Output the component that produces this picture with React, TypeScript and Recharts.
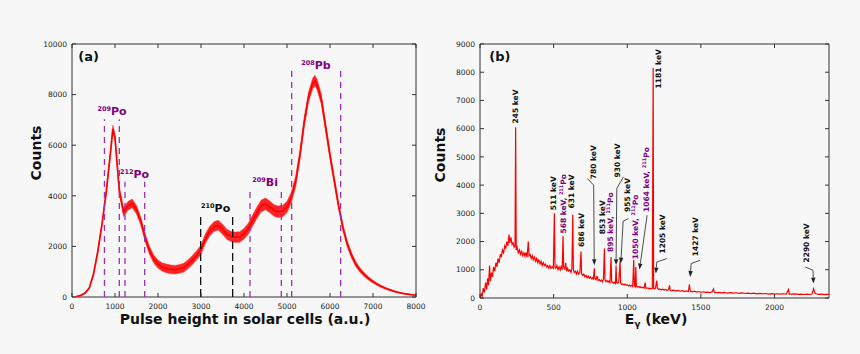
import React from 'react';
import { ComposedChart, LineChart, Line, Area, XAxis, YAxis, ReferenceLine, ReferenceDot, ReferenceArea } from 'recharts';

const FONT = '"DejaVu Sans", sans-serif';
const AXIS = '#333';
const PURPLE = '#800080';
const PURPLE_LINE = '#9b30b0';

// panel (a): [pulse height, counts, noise half-width]
const pulseSpectrum: [number, number, number][] = [
  [100, 20, 10], [200, 60, 20], [300, 150, 30], [400, 350, 40], [500, 900, 60],
  [600, 1800, 80], [700, 2900, 100], [800, 4200, 110], [900, 5800, 130], [950, 6650, 140],
  [1000, 6300, 140], [1100, 4200, 150], [1200, 3350, 170], [1300, 3600, 170], [1400, 3700, 170],
  [1500, 3450, 170], [1600, 3000, 160], [1700, 2350, 160], [1800, 1850, 160], [1900, 1500, 160],
  [2000, 1300, 160], [2100, 1180, 165], [2200, 1130, 170], [2300, 1090, 170], [2400, 1080, 170],
  [2500, 1110, 170], [2600, 1160, 175], [2700, 1300, 175], [2800, 1460, 180], [2900, 1650, 180],
  [3000, 1870, 185], [3100, 2300, 190], [3200, 2600, 190], [3300, 2780, 195], [3400, 2840, 195],
  [3500, 2680, 200], [3600, 2480, 200], [3700, 2390, 200], [3800, 2360, 205], [3900, 2370, 205],
  [4000, 2500, 210], [4100, 2700, 215], [4200, 3020, 220], [4300, 3330, 225], [4400, 3600, 230],
  [4500, 3680, 230], [4600, 3560, 230], [4700, 3420, 230], [4800, 3370, 230], [4900, 3400, 225],
  [5000, 3560, 220], [5100, 3930, 215], [5200, 4550, 210], [5300, 5600, 205], [5400, 6900, 200],
  [5500, 7900, 200], [5600, 8450, 210], [5650, 8550, 210], [5700, 8400, 205], [5800, 7800, 200],
  [5900, 6700, 190], [6000, 5600, 170], [6100, 4600, 150], [6200, 3600, 140], [6300, 2750, 130],
  [6400, 2100, 120], [6500, 1650, 110], [6600, 1300, 100], [6700, 1060, 85], [6800, 880, 75],
  [6900, 730, 65], [7000, 610, 55], [7100, 500, 45], [7200, 410, 40], [7300, 340, 35],
  [7400, 280, 30], [7500, 220, 25], [7600, 180, 20], [7700, 140, 18], [7800, 115, 15],
  [7900, 90, 12], [8000, 70, 10],
];

const pulseTicks = [0, 1000, 2000, 3000, 4000, 5000, 6000, 7000, 8000];
const countTicksA = [0, 2000, 4000, 6000, 8000, 10000];

// dashed windows: [position, top, colour]
const windowsA: [number, number, string][] = [
  [755, 7030, PURPLE_LINE], [1100, 7030, PURPLE_LINE],
  [1232, 4560, PURPLE_LINE], [1690, 4560, PURPLE_LINE],
  [2992, 3200, '#111'], [3736, 3200, '#111'],
  [4140, 4220, PURPLE_LINE], [4868, 4220, PURPLE_LINE],
  [5109, 9060, PURPLE_LINE], [6248, 9130, PURPLE_LINE],
];

// isotope labels: [x, y, mass, symbol, colour]
const isotopesA: [number, number, string, string, string][] = [
  [930, 7190, '209', 'Po', PURPLE],
  [1453, 4700, '212', 'Po', PURPLE],
  [3340, 3370, '210', 'Po', '#111'],
  [4490, 4390, '209', 'Bi', PURPLE],
  [5674, 9000, '208', 'Pb', PURPLE],
];

// panel (b): [energy keV, counts]
const gammaSpectrum: [number, number][] = [
  [0, 0], [8, 150], [15, 60], [22, 350], [30, 200], [38, 550], [45, 300], [52, 700], [58, 450],
  [65, 1150], [70, 600], [78, 900], [85, 750], [92, 1100], [100, 950], [108, 1250], [115, 1100],
  [122, 1400], [130, 1250], [138, 1550], [145, 1450], [152, 1700], [160, 1600], [168, 1850],
  [175, 1750], [182, 2000], [190, 1850], [197, 2250], [203, 1950], [210, 2150], [218, 1900],
  [225, 1950], [232, 1800], [238, 1850], [242, 6050], [246, 1700], [252, 1800], [260, 1600],
  [268, 1700], [275, 1550], [283, 1650], [290, 1500], [298, 1600], [305, 1480], [312, 1620],
  [320, 1450], [328, 2000], [333, 1500], [340, 1550], [348, 1400], [355, 1500], [362, 1350],
  [370, 1450], [378, 1300], [385, 1400], [393, 1250], [400, 1350], [408, 1200], [415, 1300],
  [423, 1150], [430, 1250], [438, 1150], [445, 1200], [453, 1100], [460, 1150], [468, 1050],
  [475, 1150], [483, 1050], [490, 1100], [498, 1050], [505, 3000], [509, 1100], [515, 1050],
  [522, 1150], [530, 1000], [537, 1100], [545, 1000], [552, 1150], [558, 1000], [564, 2200],
  [568, 1100], [575, 1000], [582, 1250], [588, 950], [595, 1050], [602, 950], [610, 1000],
  [618, 900], [624, 1050], [630, 2950], [634, 1000], [640, 900], [648, 950], [655, 850],
  [662, 950], [670, 850], [678, 900], [686, 1650], [690, 850], [698, 800], [705, 850],
  [712, 750], [720, 800], [728, 720], [735, 780], [742, 700], [750, 750], [758, 680],
  [765, 720], [770, 650], [776, 1050], [780, 700], [788, 650], [795, 780], [802, 620],
  [810, 650], [818, 600], [825, 640], [832, 580], [838, 650], [845, 1750], [849, 650],
  [855, 580], [862, 620], [870, 560], [876, 600], [883, 550], [890, 1450], [894, 580],
  [900, 560], [908, 520], [915, 560], [920, 520], [924, 1150], [928, 540], [935, 520],
  [942, 560], [951, 1300], [955, 520], [962, 480], [970, 500], [978, 460], [985, 490],
  [992, 450], [1000, 470], [1008, 430], [1015, 460], [1022, 420], [1030, 450], [1037, 410],
  [1044, 1350], [1048, 450], [1054, 400], [1058, 1100], [1062, 420], [1070, 390], [1078, 410],
  [1085, 370], [1092, 400], [1100, 360], [1108, 380], [1115, 350], [1122, 550], [1126, 360],
  [1133, 340], [1140, 360], [1148, 330], [1155, 350], [1162, 320], [1170, 340], [1176, 8150],
  [1179, 340], [1185, 320], [1192, 350], [1200, 620], [1205, 350], [1212, 300], [1220, 320],
  [1230, 290], [1240, 310], [1250, 280], [1260, 300], [1270, 270], [1280, 290], [1287, 450],
  [1292, 270], [1300, 260], [1315, 280], [1330, 250], [1345, 270], [1360, 240], [1375, 260],
  [1390, 230], [1405, 250], [1415, 230], [1422, 480], [1428, 240], [1440, 220], [1455, 240],
  [1470, 210], [1485, 230], [1500, 200], [1515, 220], [1530, 200], [1545, 210], [1560, 190],
  [1575, 210], [1586, 320], [1592, 200], [1605, 190], [1620, 200], [1640, 180], [1660, 200],
  [1680, 170], [1700, 190], [1720, 170], [1740, 185], [1760, 165], [1780, 180], [1800, 160],
  [1820, 175], [1840, 155], [1860, 170], [1880, 150], [1900, 165], [1920, 150], [1940, 160],
  [1960, 140], [1980, 155], [2000, 140], [2020, 150], [2040, 135], [2060, 150], [2080, 140],
  [2095, 300], [2100, 140], [2120, 135], [2140, 145], [2160, 130], [2180, 140], [2200, 125],
  [2220, 140], [2240, 125], [2255, 140], [2265, 330], [2272, 200], [2280, 150], [2300, 130],
  [2320, 140], [2340, 120], [2360, 135], [2370, 125],
];

const energyTicks = [0, 500, 1000, 1500, 2000];
const countTicksB = [0, 1000, 2000, 3000, 4000, 5000, 6000, 7000, 8000, 9000];

// peak labels: [x, y, text, isotope suffix?]
const peaksB: [number, number, string, boolean][] = [
  [261, 6186, '245 keV', false],
  [516, 3111, '511 keV', false],
  [584, 2284, '568 keV, ', true],
  [641, 3171, '631 keV', false],
  [709, 1809, '686 keV', false],
  [788, 4210, '780 keV', false],
  [852, 2259, '853 keV', false],
  [902, 1632, '895 keV, ', true],
  [954, 4271, '930 keV', false],
  [1019, 3050, '955 keV', false],
  [1072, 1373, '1050 keV, ', true],
  [1151, 3050, '1064 keV, ', true],
  [1230, 7427, '1181 keV', false],
  [1257, 1575, '1205 keV', false],
  [1479, 1479, '1427 keV', false],
  [2232, 1256, '2290 keV', false],
];

// leader arrows for crowded peaks
const arrowsB: [number, number][][] = [
  [[729, 4235], [772, 3997], [776, 1160]],
  [[974, 4292], [929, 3880], [924, 1160]],
  [[1008, 2816], [972, 2720], [956, 1220]],
  [[1135, 2933], [1083, 1007]],
  [[1269, 1397], [1201, 1277], [1194, 865]],
  [[1495, 1337], [1434, 1220], [1427, 745]],
  [[2209, 1100], [2261, 983], [2265, 511]],
];

const pulseData = pulseSpectrum.map(([x, c, s]) => ({ x, c, band: [c - s, c + s] }));
const gammaData = gammaSpectrum.map(([e, c]) => ({ e, c }));

const makeXTick = (plotH: number, dy: number) => (props: any) => {
  const { x, y, payload } = props;
  return (
    <g>
      <line x1={x} x2={x} y1={y} y2={y - 4} stroke={AXIS} />
      <line x1={x} x2={x} y1={y - plotH} y2={y - plotH + 4} stroke={AXIS} />
      <text x={x} y={y + dy} textAnchor="middle" fontSize={7.5} fill="#222" fontFamily={FONT}>
        {payload.value}
      </text>
    </g>
  );
};

const makeYTick = (plotW: number) => (props: any) => {
  const { x, y, payload } = props;
  return (
    <g>
      <line x1={x} x2={x + 4} y1={y} y2={y} stroke={AXIS} />
      <line x1={x + plotW} x2={x + plotW - 4} y1={y} y2={y} stroke={AXIS} />
      <text x={x - 5} y={y + 2.7} textAnchor="end" fontSize={7.5} fill="#222" fontFamily={FONT}>
        {payload.value}
      </text>
    </g>
  );
};

const arrowShape = (props: any) => {
  const { x1, y1, x2, y2 } = props;
  const dx = x2 - x1;
  const dy = y2 - y1;
  const len = Math.sqrt(dx * dx + dy * dy) || 1;
  const ux = dx / len;
  const uy = dy / len;
  const bx = x2 - ux * 6;
  const by = y2 - uy * 6;
  return (
    <g>
      <line x1={x1} y1={y1} x2={bx} y2={by} stroke="#222" strokeWidth={0.8} />
      <polygon
        points={`${x2},${y2} ${bx - uy * 2.2},${by + ux * 2.2} ${bx + uy * 2.2},${by - ux * 2.2}`}
        fill="#222"
      />
    </g>
  );
};

const title: React.CSSProperties = {
  position: 'absolute',
  fontFamily: FONT,
  fontWeight: 'bold',
  fontSize: 14,
  color: '#111',
  whiteSpace: 'nowrap',
  lineHeight: 1,
};

export default function App() {
  return (
    <div style={{ position: 'absolute', left: 0, top: 0, width: 860, height: 354, background: '#f7f7f7', overflow: 'hidden' }}>
      <div style={{ position: 'absolute', left: 0, top: 0 }}>
        <ComposedChart width={430} height={354} data={pulseData} margin={{ top: 44, right: 14, bottom: 37, left: 32 }}>
          <XAxis
            type="number"
            dataKey="x"
            domain={[0, 8000]}
            ticks={pulseTicks}
            interval={0}
            height={20}
            axisLine={false}
            tickLine={false}
            tickSize={0}
            tickMargin={0}
            tick={makeXTick(253, 11.5)}
            allowDataOverflow
          />
          <YAxis
            type="number"
            domain={[0, 10000]}
            ticks={countTicksA}
            interval={0}
            width={40}
            axisLine={false}
            tickLine={false}
            tickSize={0}
            tickMargin={0}
            tick={makeYTick(344)}
            allowDataOverflow
          />
          <ReferenceArea x1={0} x2={8000} y1={0} y2={10000} fill="none" fillOpacity={0} stroke={AXIS} strokeWidth={1} />
          <Area dataKey="band" stroke="#ff3030" strokeWidth={0.5} fill="#ff0000" fillOpacity={0.85} isAnimationActive={false} />
          <Line dataKey="c" stroke="#ff0000" strokeWidth={1.6} dot={false} isAnimationActive={false} />
          {windowsA.map(([x, top, col], i) => (
            <ReferenceLine
              key={`w${i}`}
              segment={[{ x, y: 0 }, { x, y: top }]}
              stroke={col}
              strokeWidth={1.3}
              strokeDasharray={col === '#111' ? '8 4' : '6 5'}
            />
          ))}
          {isotopesA.map(([x, y, mass, sym, col], i) => (
            <ReferenceDot
              key={`i${i}`}
              x={x}
              y={y}
              r={0}
              shape={(p: any) => (
                <text x={p.cx} y={p.cy} textAnchor="middle" fill={col} fontWeight="bold" fontFamily={FONT}>
                  <tspan fontSize={6.5} dy={-4}>{mass}</tspan>
                  <tspan fontSize={11} dy={4}>{sym}</tspan>
                </text>
              )}
            />
          ))}
          <ReferenceDot
            x={147}
            y={9328}
            r={0}
            shape={(p: any) => (
              <text x={p.cx} y={p.cy} fontSize={13} fontWeight="bold" fill="#111" fontFamily={FONT}>(a)</text>
            )}
          />
        </ComposedChart>
      </div>

      <div style={{ position: 'absolute', left: 430, top: 0 }}>
        <LineChart width={430} height={354} data={gammaData} margin={{ top: 44, right: 31, bottom: 36, left: 10 }}>
          <XAxis
            type="number"
            dataKey="e"
            domain={[0, 2370]}
            ticks={energyTicks}
            interval={0}
            height={20}
            axisLine={false}
            tickLine={false}
            tickSize={0}
            tickMargin={0}
            tick={makeXTick(254, 12)}
            allowDataOverflow
          />
          <YAxis
            type="number"
            domain={[0, 9000]}
            ticks={countTicksB}
            interval={0}
            width={40}
            axisLine={false}
            tickLine={false}
            tickSize={0}
            tickMargin={0}
            tick={makeYTick(349)}
            allowDataOverflow
          />
          <ReferenceArea x1={0} x2={2370} y1={0} y2={9000} fill="none" fillOpacity={0} stroke={AXIS} strokeWidth={1} />
          <Line dataKey="c" stroke="#ff0000" strokeWidth={1.2} dot={false} isAnimationActive={false} />
          {arrowsB.map((pts, i) =>
            pts.slice(1).map((pt, j) => (
              <ReferenceLine
                key={`a${i}-${j}`}
                segment={[{ x: pts[j][0], y: pts[j][1] }, { x: pt[0], y: pt[1] }]}
                stroke="#222"
                strokeWidth={0.8}
                shape={j === pts.length - 2 ? arrowShape : undefined}
              />
            ))
          )}
          {peaksB.map(([x, y, text, iso], i) => (
            <ReferenceDot
              key={`p${i}`}
              x={x}
              y={y}
              r={0}
              shape={(p: any) => (
                <text
                  x={p.cx}
                  y={p.cy}
                  transform={`rotate(-90 ${p.cx} ${p.cy})`}
                  fontSize={7.5}
                  fontWeight="bold"
                  fill={iso ? PURPLE : '#111'}
                  fontFamily={FONT}
                >
                  {text}
                  {iso && <tspan fontSize={5} dy={-3}>211</tspan>}
                  {iso && <tspan dy={3}>Po</tspan>}
                </text>
              )}
            />
          ))}
          <ReferenceDot
            x={63}
            y={8396}
            r={0}
            shape={(p: any) => (
              <text x={p.cx} y={p.cy} fontSize={13} fontWeight="bold" fill="#111" fontFamily={FONT}>(b)</text>
            )}
          />
        </LineChart>
      </div>

      <div style={{ ...title, left: 36, top: 153, transform: 'translate(-50%, -50%) rotate(-90deg)' }}>Counts</div>
      <div style={{ ...title, left: 245, top: 312, transform: 'translateX(-50%)' }}>Pulse height in solar cells (a.u.)</div>
      <div style={{ ...title, left: 440, top: 155, transform: 'translate(-50%, -50%) rotate(-90deg)' }}>Counts</div>
      <div style={{ ...title, left: 656, top: 312, transform: 'translateX(-50%)' }}>
        E<sub style={{ fontSize: 9, verticalAlign: -3 }}>γ</sub> (keV)
      </div>
    </div>
  );
}
